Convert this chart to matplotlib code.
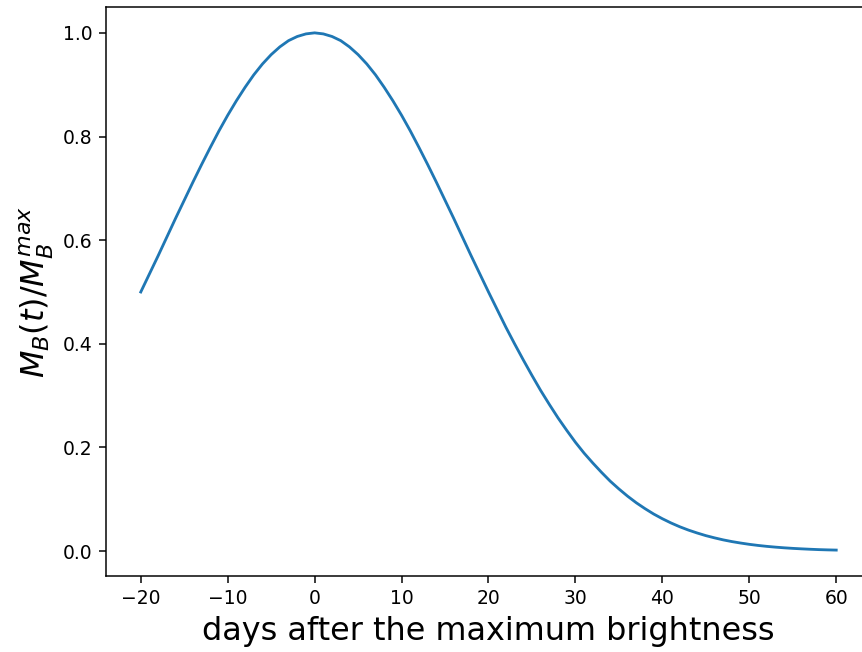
import matplotlib
matplotlib.use('Agg')
import matplotlib.pyplot as plt

# B-band light curve, normalised to peak brightness (one point per day)
days = list(range(-20, 61))
ratio = [0.500, 0.535, 0.570, 0.606, 0.642, 0.677, 0.712, 0.746, 0.779, 0.811,
         0.841, 0.869, 0.895, 0.919, 0.940, 0.958, 0.973, 0.985, 0.993, 0.998,
         1.000,
         0.998, 0.993, 0.985, 0.973, 0.958, 0.940, 0.919, 0.895, 0.869, 0.841,
         0.811, 0.779, 0.746, 0.712, 0.677, 0.642, 0.606, 0.570, 0.535, 0.500,
         0.466, 0.432, 0.400, 0.369, 0.339, 0.310, 0.283, 0.257, 0.233, 0.210,
         0.189, 0.170, 0.152, 0.135, 0.120, 0.106, 0.0933, 0.082, 0.0716, 0.0625,
         0.0543, 0.047, 0.0406, 0.035, 0.0299, 0.0256, 0.0217, 0.0184, 0.0156, 0.0131,
         0.0110, 0.0092, 0.0077, 0.0064, 0.0053, 0.0044, 0.0036, 0.0029, 0.0024, 0.0020]

W, H = 862, 652
fig = plt.figure(figsize=(W / 135, H / 135), dpi=135)
ax = fig.add_axes([106 / W, 1 - 576 / H, (871 - 106) / W, (576 - 7) / H])

ax.plot(days, ratio, color='#1f77b4', lw=1.5)
ax.set_xlim(-24, 64)
ax.set_ylim(-0.048, 1.0499)

ax.set_xlabel('days after the maximum brightness', fontsize=17)
ax.set_ylabel(r'$M_B(t)/M_B^{max}$', fontsize=17)

fig.savefig('out.png', dpi=135)
